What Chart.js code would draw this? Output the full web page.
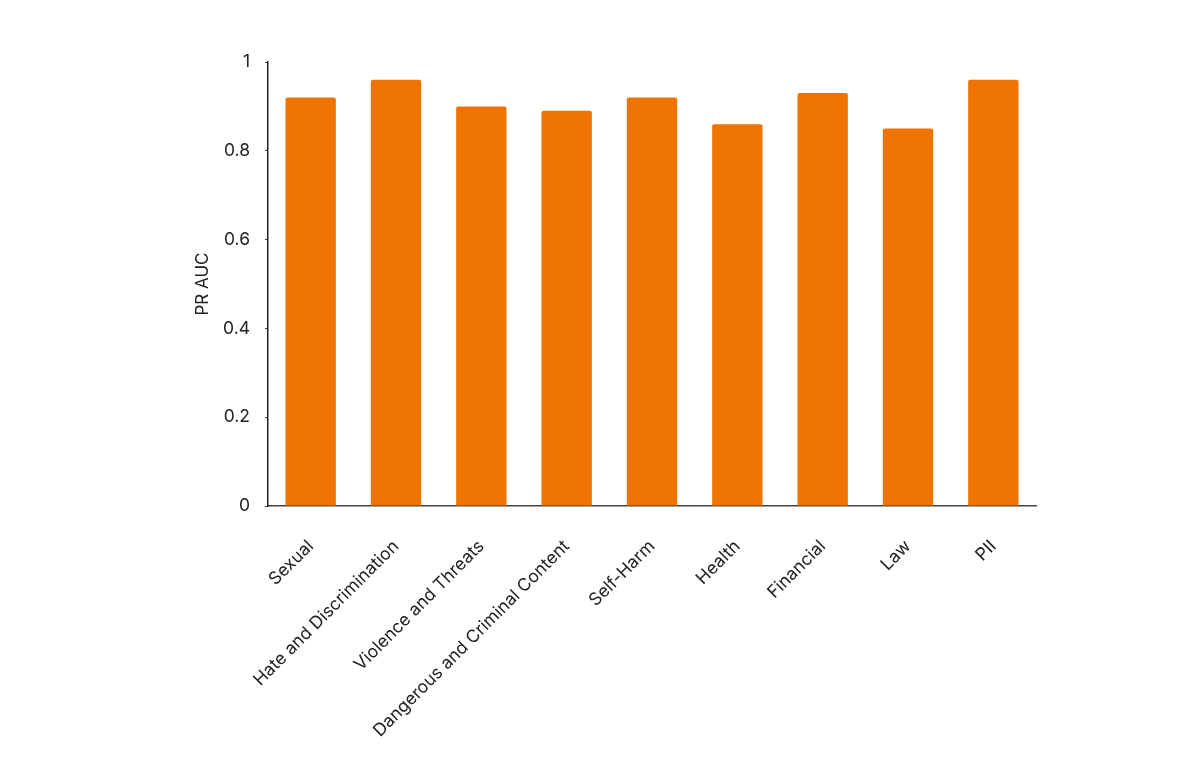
<!DOCTYPE html>
<html>
<head>
<meta charset="utf-8">
<script src="https://cdn.jsdelivr.net/npm/chart.js@4"></script>
<style>
  html, body { margin: 0; padding: 0; background: #fff; }
  #wrap { width: 1200px; height: 764px; }
</style>
</head>
<body>
<div id="wrap"><canvas id="myChart" width="1200" height="764"></canvas></div>
<script>
const categories = ['Sexual', 'Hate and Discrimination', 'Violence and Threats', 'Dangerous and Criminal Content',
  'Self-Harm', 'Health', 'Financial', 'Law', 'PII'];
const prAuc = [0.92, 0.96, 0.90, 0.89, 0.92, 0.86, 0.93, 0.85, 0.96];
const yTicks = [0, 0.2, 0.4, 0.6, 0.8, 1];

Chart.defaults.font.family = 'Inter, "Noto Sans", sans-serif';
Chart.defaults.color = '#222';

const ctx = document.getElementById('myChart').getContext('2d');

new Chart(ctx, {
  type: 'bar',
  data: {
    labels: categories,
    datasets: [{
      label: 'PR AUC',
      data: prAuc,
      backgroundColor: '#EF7300',
      borderRadius: 2,
      borderSkipped: 'bottom',
      barPercentage: 0.59,
      categoryPercentage: 1
    }]
  },
  options: {
    responsive: false,
    animation: false,
    layout: { padding: { left: 0, top: 62, right: 164, bottom: 0 } },
    plugins: {
      legend: { display: false },
      tooltip: { enabled: false }
    },
    scales: {
      x: {
        grid: { display: false, drawTicks: false },
        border: { display: true, color: '#444', width: 1.5 },
        ticks: {
          maxRotation: 45,
          minRotation: 45,
          padding: 30,
          font: { size: 17.5 },
          color: '#222'
        },
        afterFit: scale => { scale.height = 258; }
      },
      y: {
        min: 0,
        max: 1,
        afterBuildTicks: scale => { scale.ticks = yTicks.map(v => ({ value: v })); },
        grid: { display: true, drawOnChartArea: false, tickLength: 3, color: '#444' },
        border: { display: true, color: '#222', width: 1.5 },
        ticks: {
          padding: 15,
          font: { size: 17.5 },
          color: '#222',
          callback: v => String(Number(v.toFixed(1)))
        },
        title: {
          display: true,
          text: 'PR AUC',
          font: { size: 17 },
          color: '#222',
          padding: { top: 193, bottom: 0 }
        },
        afterFit: scale => { scale.width = 268; }
      }
    }
  }
});
</script>
</body>
</html>
